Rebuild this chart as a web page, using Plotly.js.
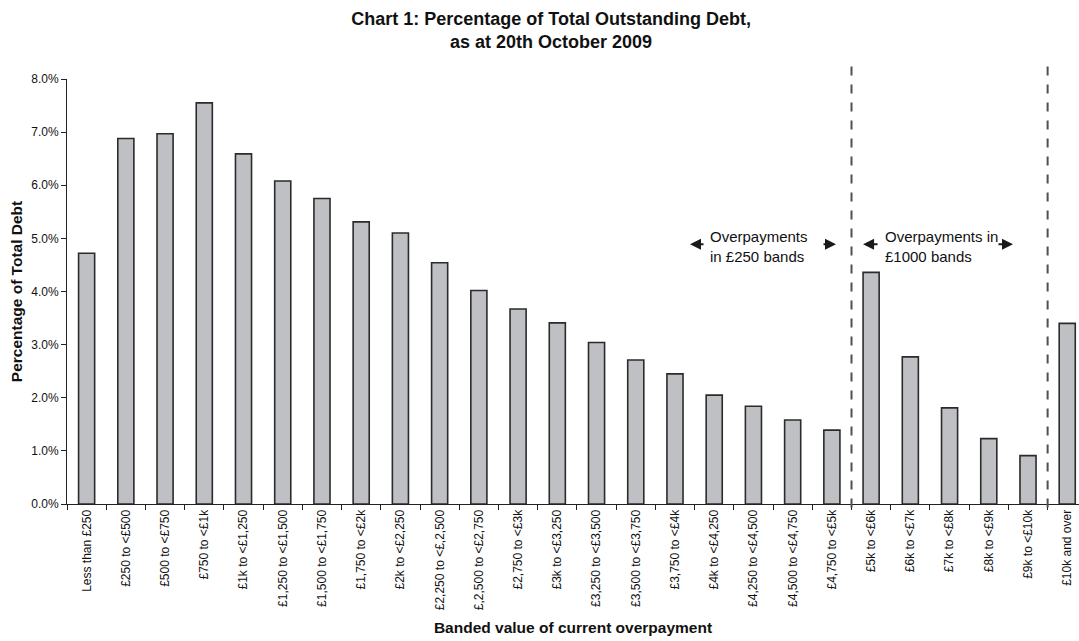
<!DOCTYPE html>
<html>
<head>
<meta charset="utf-8">
<script src="https://cdn.plot.ly/plotly-3.0.1.min.js"></script>
<style>
  html, body { margin: 0; padding: 0; background: #ffffff; }
  #chart { width: 1079px; height: 641px; }
</style>
</head>
<body>
<div id="chart"></div>
<script>
// Overpayment bands (£250 steps up to £5k, then £1000 steps, then £10k+)
const bands = [
  "Less than £250", "£250 to <£500", "£500 to <£750", "£750 to <£1k",
  "£1k to <£1,250", "£1,250 to <£1,500", "£1,500 to <£1,750", "£1,750 to <£2k",
  "£2k to <£2,250", "£2,250 to <£,2,500", "£,2,500 to <£2,750", "£2,750 to <£3k",
  "£3k to <£3,250", "£3,250 to <£3,500", "£3,500 to <£3,750", "£3,750 to <£4k",
  "£4k to <£4,250", "£4,250 to <£4,500", "£4,500 to <£4,750", "£4,750 to <£5k",
  "£5k to <£6k", "£6k to <£7k", "£7k to <£8k", "£8k to <£9k",
  "£9k to <£10k", "£10k and over"
];

// Share of total outstanding debt in each band (%)
const debtShare = [
  4.72, 6.88, 6.97, 7.55, 6.59, 6.08, 5.75, 5.31, 5.10, 4.54,
  4.02, 3.67, 3.41, 3.04, 2.71, 2.45, 2.05, 1.84, 1.58, 1.39,
  4.36, 2.77, 1.81, 1.23, 0.91, 3.40
];

// Band-width group separators (between category positions)
const separators = [19.5, 24.5];

// Percentage axis ticks
const yTicks = [0, 1, 2, 3, 4, 5, 6, 7, 8];
const yTickText = yTicks.map(v => v.toFixed(1) + "%");

const FONT = "Liberation Sans, Arial, sans-serif";

const trace = {
  type: "bar",
  x: bands,
  y: debtShare,
  marker: {
    color: "#bfc0c4",
    line: { color: "#2b2b2b", width: 1.6 }
  },
  hoverinfo: "x+y"
};

const shapes = separators.map(s => ({
  type: "line",
  xref: "x", yref: "paper",
  x0: s, x1: s, y0: -0.008, y1: 1.05,
  line: { color: "#505050", width: 2, dash: "dash" }
}));

function arrow(xHead, tailOffset) {
  return {
    xref: "paper", yref: "paper",
    x: xHead, y: 0.611,
    ax: tailOffset, ay: 0,
    text: "",
    showarrow: true,
    arrowhead: 2, arrowsize: 1.1, arrowwidth: 2,
    arrowcolor: "#1a1a1a"
  };
}

const annotations = [
  {
    xref: "paper", yref: "paper",
    x: 0.6334, y: 0.605,
    xanchor: "left", yanchor: "middle", align: "left",
    text: "Overpayments<br>in £250 bands",
    showarrow: false,
    font: { family: FONT, size: 15, color: "#111" }
  },
  {
    xref: "paper", yref: "paper",
    x: 0.8063, y: 0.605,
    xanchor: "left", yanchor: "middle", align: "left",
    text: "Overpayments in<br>£1000 bands",
    showarrow: false,
    font: { family: FONT, size: 15, color: "#111" }
  },
  arrow(0.6156, 15),
  arrow(0.7599, -14),
  arrow(0.7866, 16),
  arrow(0.9348, -16)
];

const layout = {
  width: 1079,
  height: 641,
  margin: { l: 67, r: 0, t: 79, b: 137 },
  paper_bgcolor: "#ffffff",
  plot_bgcolor: "#ffffff",
  showlegend: false,
  bargap: 0.59,
  font: { family: FONT, size: 12, color: "#111" },
  title: {
    text: "<b>Chart 1: Percentage of Total Outstanding Debt,<br>as at 20th October 2009</b>",
    font: { family: FONT, size: 18, color: "#111" },
    xref: "container", x: 0.5107, xanchor: "center",
    yref: "container", y: 0.961, yanchor: "bottom"
  },
  xaxis: {
    type: "category",
    range: [-0.5, 25.3],
    tickangle: -90,
    tickson: "boundaries",
    ticks: "outside",
    ticklen: 5,
    tickcolor: "#222",
    showline: true,
    linecolor: "#222",
    linewidth: 1,
    showgrid: false,
    zeroline: false,
    tickfont: { family: FONT, size: 12, color: "#111" },
    title: {
      text: "<b>Banded value of current overpayment</b>",
      font: { family: FONT, size: 15.5, color: "#111" },
      standoff: 12
    },
    automargin: false
  },
  yaxis: {
    range: [0, 8],
    tickmode: "array",
    tickvals: yTicks,
    ticktext: yTickText,
    ticks: "outside",
    ticklen: 5,
    tickcolor: "#222",
    showline: true,
    linecolor: "#222",
    linewidth: 1,
    showgrid: false,
    zeroline: false,
    tickfont: { family: FONT, size: 12, color: "#111" },
    title: {
      text: "<b>Percentage of Total Debt</b>",
      font: { family: FONT, size: 15.5, color: "#111" },
      standoff: 4
    },
    automargin: false
  },
  shapes: shapes,
  annotations: annotations
};

Plotly.newPlot("chart", [trace], layout, { displayModeBar: false, responsive: false });
</script>
</body>
</html>
